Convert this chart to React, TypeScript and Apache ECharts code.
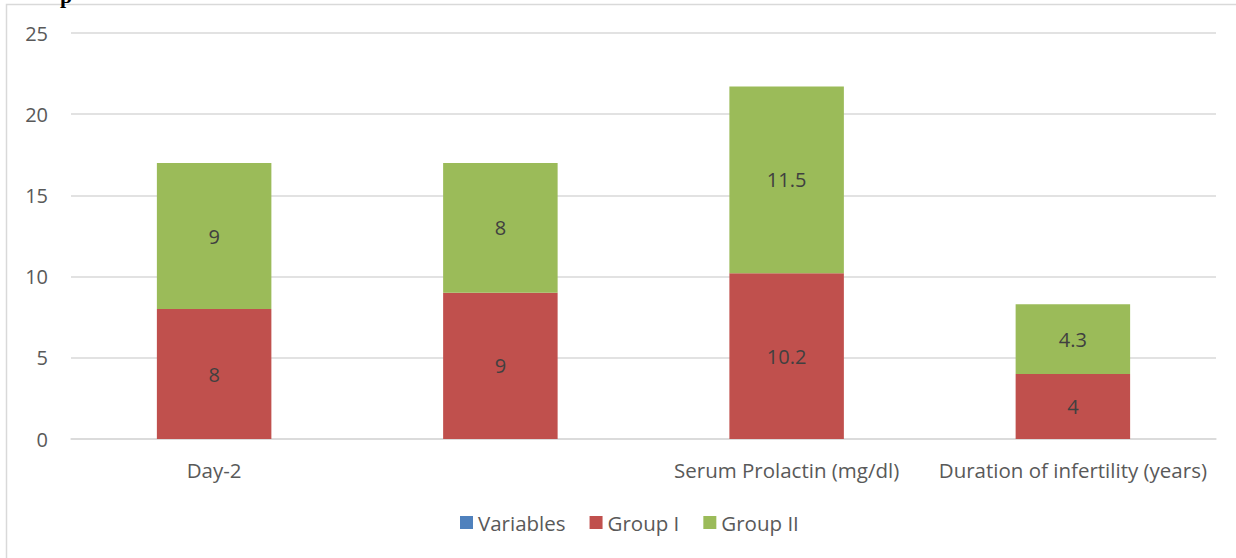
import React, { useEffect, useRef } from "react";
import * as echarts from "echarts";

const categories = ["Day-2", "", "Serum Prolactin (mg/dl)", "Duration of infertility (years)"];
const variablesValues: (number | null)[] = [null, null, null, null];
const group1Values = [8, 9, 10.2, 4];
const group2Values = [9, 8, 11.5, 4.3];
const yTicks = { min: 0, max: 25, interval: 5 };

const FONT = "'Open Sans', 'Noto Sans', sans-serif";

export default function App() {
  const ref = useRef<HTMLDivElement>(null);
  useEffect(() => {
    if (!ref.current) return;
    const chart = echarts.init(ref.current, null, { renderer: "svg" });
    const labelStyle = {
      show: true,
      position: "inside" as const,
      color: "#404040",
      fontSize: 20,
      fontFamily: FONT,
    };
    chart.setOption({
      animation: false,
      backgroundColor: "#ffffff",
      textStyle: { fontFamily: FONT },
      graphic: [
        {
          type: "rect",
          shape: { x: 6.5, y: 4.5, width: 1300, height: 600 },
          style: { fill: "none", stroke: "#d9d9d9", lineWidth: 1.5 },
          silent: true,
        },
        {
          type: "text",
          x: 60,
          y: -16,
          style: { text: "p", font: "bold 22px 'Liberation Serif', serif", fill: "#000" },
          silent: true,
        },
      ],
      grid: { left: 71, right: 20, top: 33, bottom: 119, containLabel: false },
      legend: {
        bottom: 20,
        left: 455,
        itemWidth: 13,
        itemHeight: 13,
        itemGap: 24,
        icon: "rect",
        textStyle: { color: "#595959", fontSize: 20.5, fontFamily: FONT, padding: [0, 0, 0, 0] },
        data: ["Variables", "Group I", "Group II"],
      },
      xAxis: {
        type: "category",
        data: categories,
        axisLine: { show: true, lineStyle: { color: "#d9d9d9", width: 1.5 } },
        axisTick: { show: false },
        axisLabel: { color: "#595959", fontSize: 20.5, fontFamily: FONT, margin: 20, interval: 0 },
      },
      yAxis: {
        type: "value",
        min: yTicks.min,
        max: yTicks.max,
        interval: yTicks.interval,
        axisLine: { show: false },
        axisTick: { show: false },
        axisLabel: { color: "#595959", fontSize: 20, fontFamily: FONT, margin: 23 },
        splitLine: { lineStyle: { color: "#d9d9d9", width: 1.5 } },
      },
      series: [
        {
          name: "Variables",
          type: "bar",
          stack: "total",
          data: variablesValues,
          itemStyle: { color: "#4F81BD" },
          barCategoryGap: "60%",
        },
        {
          name: "Group I",
          type: "bar",
          stack: "total",
          data: group1Values,
          itemStyle: { color: "#C0504D" },
          label: labelStyle,
          barCategoryGap: "60%",
        },
        {
          name: "Group II",
          type: "bar",
          stack: "total",
          data: group2Values,
          itemStyle: { color: "#9BBB59" },
          label: labelStyle,
          barCategoryGap: "60%",
        },
      ],
    });
    return () => chart.dispose();
  }, []);
  return (
    <div
      ref={ref}
      style={{ position: "absolute", left: 0, top: 0, width: 1236, height: 558 }}
    />
  );
}
